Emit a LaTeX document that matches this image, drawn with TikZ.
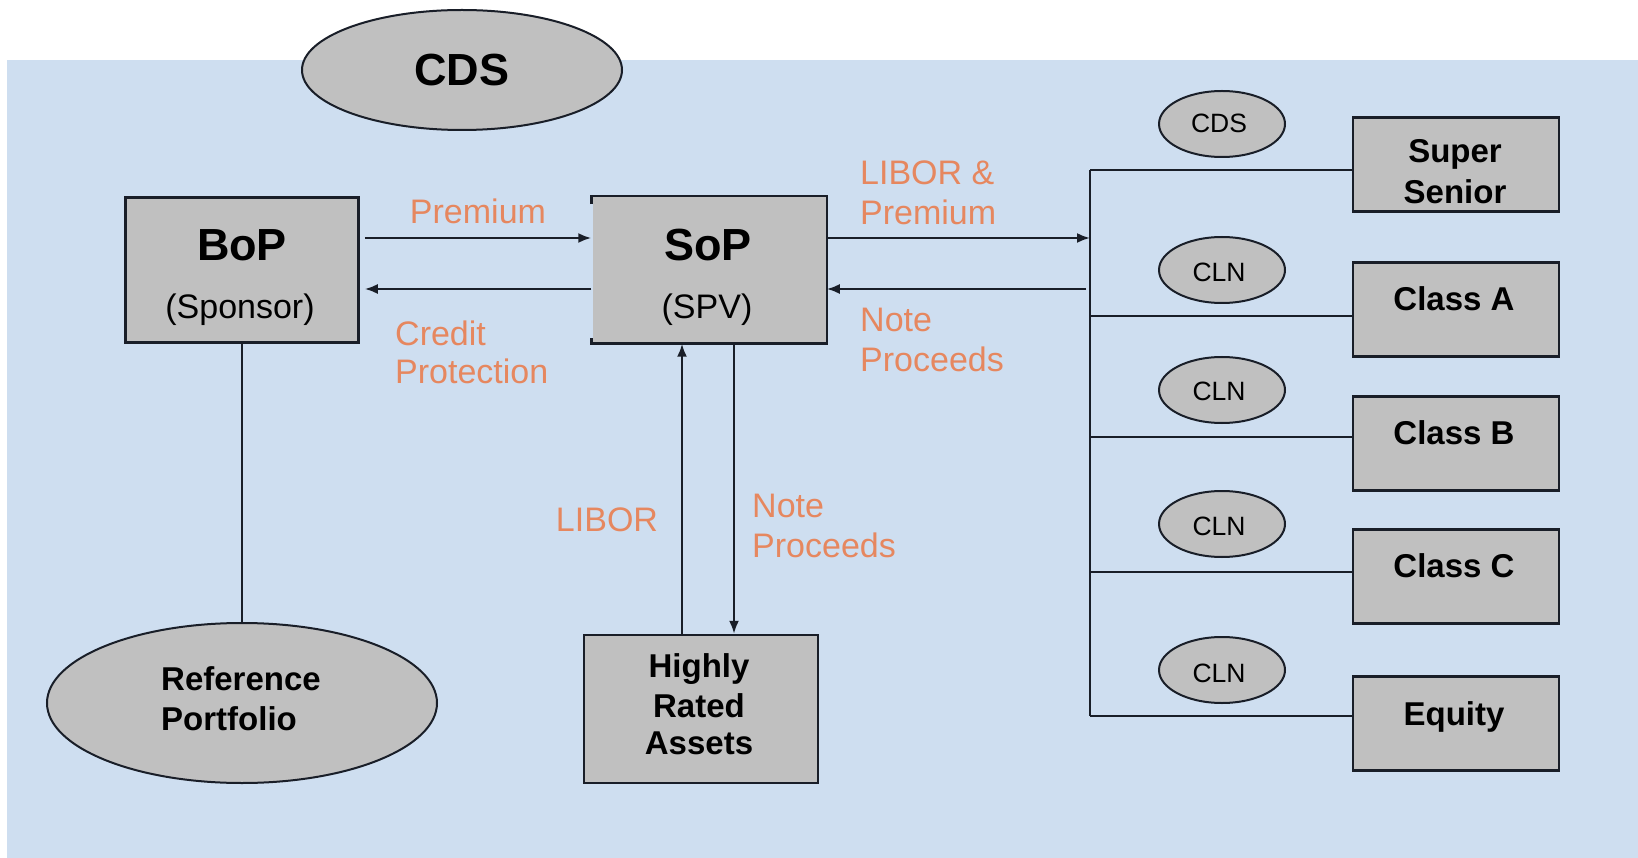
\documentclass[tikz,border=0pt]{standalone}
\usepackage{fontspec}
\setmainfont{Liberation Sans}
\usetikzlibrary{arrows.meta,shapes.geometric,calc}
\definecolor{bgblue}{RGB}{206,222,240}
\definecolor{boxgray}{RGB}{192,192,192}
\definecolor{lblorange}{RGB}{230,135,95}
\definecolor{linedark}{RGB}{25,30,40}
\begin{document}
\begin{tikzpicture}[x=1pt,y=-1pt,
  box/.style={draw=linedark,line width=2.5pt,fill=boxgray,inner sep=0pt},
  oval/.style={ellipse,draw=linedark,line width=2pt,fill=boxgray,inner sep=0pt},
  conn/.style={draw=linedark,line width=2.2pt},
  arr/.style={conn,-{Latex[length=13pt,width=10pt]}},
  lbl/.style={text=lblorange,font=\fontsize{34}{40}\selectfont,anchor=base west,inner sep=0pt},
  big/.style={font=\bfseries\fontsize{45}{54}\selectfont,anchor=base,inner sep=0pt},
  sub/.style={font=\fontsize{34}{40}\selectfont,anchor=base,inner sep=0pt},
  med/.style={font=\bfseries\fontsize{33}{40}\selectfont,anchor=base,inner sep=0pt},
  medl/.style={med,anchor=base west},
  small/.style={font=\fontsize{26.5}{32}\selectfont,anchor=base,inner sep=0pt},
  rbox/.style={box,minimum width=206pt,minimum height=94pt},
  soval/.style={oval,minimum width=126pt,minimum height=66pt}
]
\useasboundingbox (0,0) rectangle (1638,858);
\fill[white] (0,0) rectangle (1638,858);
\fill[bgblue] (7,60) rectangle (1638,858);

% main nodes
\node[oval,minimum width=320pt,minimum height=120pt,font=\bfseries\fontsize{45}{54}\selectfont] (cds) at (462,70) {CDS};
\node[box,minimum width=233pt,minimum height=145pt] (bop) at (242,270) {};
\node[box,draw=none,minimum width=233pt,minimum height=145pt] (sop) at (709,270) {};
\draw[linedark,line width=2.5pt] ($(sop.north west)+(0,8)$) -- (sop.north west) -- (sop.north east) -- (sop.south east) -- (sop.south west) -- ++(0,-6);
\node[box,minimum width=234pt,minimum height=148pt] (hra) at (701,709) {};
\node[oval,minimum width=390pt,minimum height=160pt] (ref) at (242,703) {};

% right side
\node[rbox] (ss) at (1456,164.5) {};
\node[rbox] (ca) at (1456,309.5) {};
\node[rbox] (cb) at (1456,443.5) {};
\node[rbox] (cc) at (1456,576.5) {};
\node[rbox] (eq) at (1456,723.5) {};
\node[soval] (o1) at (1222,124) {};
\node[soval] (o2) at (1222,270) {};
\node[soval] (o3) at (1222,390) {};
\node[soval] (o4) at (1222,524) {};
\node[soval] (o5) at (1222,670) {};

% texts
\node[big] (tbop) at (242,261) {BoP};
\node[sub] (tspon) at (240,319) {(Sponsor)};
\node[big] (tsop) at (708,261) {SoP};
\node[sub] (tspv) at (707,319) {(SPV)};
\node[med] (th1) at (699,677) {Highly};
\node[med] (th2) at (699,717) {Rated};
\node[med] (th3) at (699,754) {Assets};
\node[medl] (tr1) at (161,690) {Reference};
\node[medl] (tr2) at (161,730) {Portfolio};
\node[med] (tss1) at (1455,163) {Super};
\node[med] (tss2) at (1455,204) {Senior};
\node[med] (tca) at (1454,311) {Class A};
\node[med] (tcb) at (1454,444) {Class B};
\node[med] (tcc) at (1454,577) {Class C};
\node[med] (teq) at (1454,725) {Equity};
\node[small] (to1) at (1219,133) {CDS};
\node[small] (to2) at (1219,282) {CLN};
\node[small] (to3) at (1219,400) {CLN};
\node[small] (to4) at (1219,535) {CLN};
\node[small] (to5) at (1219,682) {CLN};

% labels
\node[lbl,anchor=base] (lprem) at (478,224) {Premium};
\node[lbl] (lcp1) at (395,345) {Credit};
\node[lbl] (lcp2) at (395,384) {Protection};
\node[lbl] (llp1) at (860,185) {LIBOR \&};
\node[lbl] (llp2) at (860,225) {Premium};
\node[lbl] (lnp1) at (860,332) {Note};
\node[lbl] (lnp2) at (860,372) {Proceeds};
\node[lbl,anchor=base] (llib) at (607,531) {LIBOR};
\node[lbl] (lnq1) at (752,517) {Note};
\node[lbl] (lnq2) at (752,557) {Proceeds};

% connectors
\draw[arr] ($(bop.east)+(5,-32)$) -- ($(sop.west)+(0,-32)$);
\draw[arr] ($(sop.west)+(0,19)$) -- ($(bop.east)+(5,19)$);
\coordinate (busA) at (1090,238);
\coordinate (busB) at (1086,289);
\draw[arr] ($(sop.east)+(0,-32)$) -- (busA);
\draw[arr] (busB) -- ($(sop.east)+(0,19)$);
\draw[arr] ($(hra.north)+(-19,0)$) -- ($(sop.south)+(-27,0)$);
\draw[arr] ($(sop.south)+(25,0)$) -- ($(hra.north)+(33,0)$);
\draw[conn] (bop.south) -- (ref.north);

\coordinate (b1) at (1090,170);
\coordinate (b2) at (1090,316);
\coordinate (b3) at (1090,437);
\coordinate (b4) at (1090,572);
\coordinate (b5) at (1090,716);
\draw[conn] (b1) -- (b5);
\draw[conn] (b1) -- (b1 -| ss.west);
\draw[conn] (b2) -- (b2 -| ca.west);
\draw[conn] (b3) -- (b3 -| cb.west);
\draw[conn] (b4) -- (b4 -| cc.west);
\draw[conn] (b5) -- (b5 -| eq.west);
\end{tikzpicture}
\end{document}
